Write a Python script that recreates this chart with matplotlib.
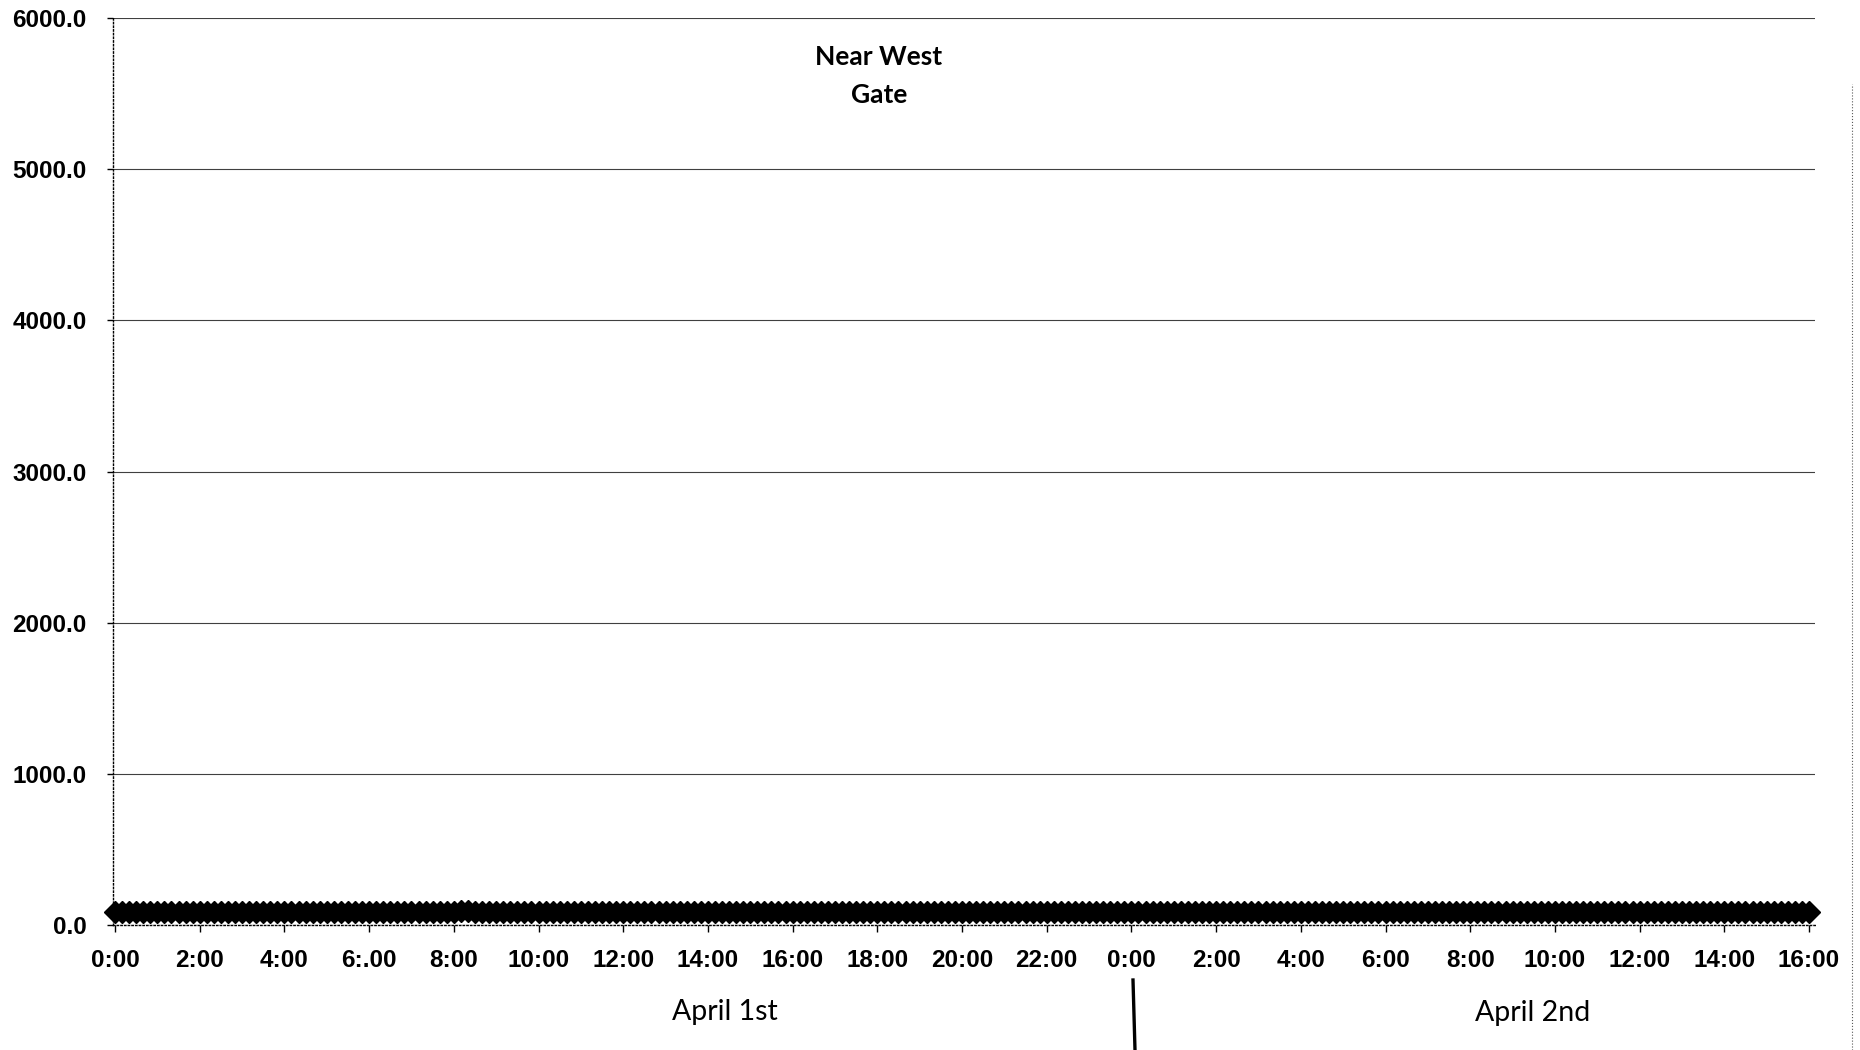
import numpy as np
import matplotlib
matplotlib.use('Agg')
from matplotlib import pyplot as plt
from matplotlib.lines import Line2D

# 每10分钟一个读数, 4月1日 0:00 至 4月2日 16:00
readings = [
    85, 85, 85, 85, 85, 85, 85, 85, 85, 85, 85, 85,   # 0:00 - 1:50
    85, 85, 85, 85, 85, 85, 85, 85, 85, 85, 85, 85,   # 2:00
    85, 85, 85, 85, 85, 85, 85, 85, 85, 85, 85, 85,   # 4:00
    85, 85, 85, 85, 85, 85, 85, 85, 85, 85, 85, 85,   # 6:00
    85, 95, 90, 85, 85, 85, 85, 85, 85, 85, 85, 85,   # 8:00
    85, 85, 85, 85, 85, 85, 85, 85, 85, 85, 85, 85,   # 10:00
    85, 85, 85, 85, 85, 85, 85, 85, 85, 85, 85, 85,   # 12:00
    85, 85, 85, 85, 85, 85, 85, 85, 85, 85, 85, 85,   # 14:00
    85, 85, 85, 85, 85, 85, 85, 85, 85, 85, 85, 85,   # 16:00
    85, 85, 85, 85, 85, 85, 85, 85, 85, 85, 85, 85,   # 18:00
    85, 85, 85, 85, 85, 85, 85, 85, 85, 85, 85, 85,   # 20:00
    85, 85, 85, 85, 85, 85, 85, 85, 85, 85, 85, 85,   # 22:00
    85, 85, 85, 85, 85, 85, 85, 85, 85, 85, 85, 85,   # 4/2 0:00
    85, 85, 85, 85, 85, 85, 85, 85, 85, 85, 85, 85,   # 2:00
    85, 85, 85, 85, 85, 85, 85, 85, 85, 85, 85, 85,   # 4:00
    85, 85, 85, 85, 85, 85, 85, 85, 85, 85, 85, 85,   # 6:00
    85, 85, 85, 85, 85, 85, 85, 85, 85, 85, 85, 85,   # 8:00
    85, 85, 85, 85, 85, 85, 85, 85, 85, 85, 85, 85,   # 10:00
    85, 85, 85, 85, 85, 85, 85, 85, 85, 85, 85, 85,   # 12:00
    85, 85, 85, 85, 85, 85, 85, 85, 85, 85, 85, 85,   # 14:00
    85,                                               # 16:00
]
tick_hours = list(range(0, 41, 2))
tick_labels = ['0:00', '2:00', '4:00', '6:.00', '8:00', '10:00', '12:00', '14:00',
               '16:00', '18:00', '20:00', '22:00', '0:00', '2:00', '4:00', '6:00',
               '8:00', '10:00', '12:00', '14:00', '16:00']
y_ticks = [0, 1000, 2000, 3000, 4000, 5000, 6000]
title = 'Near West\nGate'
day_labels = ['April 1st', 'April 2nd']

plt.rcParams['font.family'] = ['Liberation Sans', 'DejaVu Sans']

fig = plt.figure(figsize=(18.6, 10.5), dpi=100)
ax = fig.add_axes([0.0607, 0.1190, 0.9153, 0.8638])

t = np.arange(len(readings)) / 6.0  # 小时
ax.plot(t, readings, linestyle='none', marker='D', markersize=11.5,
        markerfacecolor='black', markeredgecolor='black', markeredgewidth=1,
        clip_on=False, zorder=3)

ax.set_xlim(-0.05, 40.15)
ax.set_ylim(0, 6000)
ax.set_xticks(tick_hours)
ax.set_xticklabels(tick_labels)
ax.set_yticks(y_ticks)
ax.set_yticklabels(['%.1f' % v for v in y_ticks])
for lab in ax.get_xticklabels() + ax.get_yticklabels():
    lab.set_fontsize(17.5)
    lab.set_fontweight('bold')

ax.tick_params(axis='x', direction='out', length=5, width=1, pad=12)
ax.tick_params(axis='y', direction='out', length=4, width=1, pad=15)

# 网格线
ax.yaxis.grid(True, color='0.25', linewidth=0.8)
ax.set_axisbelow(True)

for s in ['top', 'right']:
    ax.spines[s].set_visible(False)
ax.spines['left'].set_linestyle(':')
ax.spines['bottom'].set_linestyle(':')
ax.spines['left'].set_linewidth(1)
ax.spines['bottom'].set_linewidth(1)

fig.text(0.4726, 0.928, title, ha='center', va='center', multialignment='center',
         fontsize=19, fontweight='bold', family=['Lato', 'DejaVu Sans'], linespacing=1.7)

fig.text(725 / 1860, 1 - 1012 / 1050, day_labels[0], ha='center', va='center',
         fontsize=20.5, family=['Lato', 'DejaVu Sans'])
fig.text(1533 / 1860, 1 - 1013 / 1050, day_labels[1], ha='center', va='center',
         fontsize=20.5, family=['Lato', 'DejaVu Sans'])

# 日期分隔线
fig.add_artist(Line2D([1133 / 1860, 1135 / 1860], [1 - 980 / 1050, 0], color='black',
                      linewidth=2.4, transform=fig.transFigure))
# 右侧扫描边线
fig.add_artist(Line2D([1852 / 1860, 1852 / 1860], [0.0, 0.92], color='0.35',
                      linewidth=0.8, linestyle=':', transform=fig.transFigure))

fig.savefig('out.png', dpi=100)
